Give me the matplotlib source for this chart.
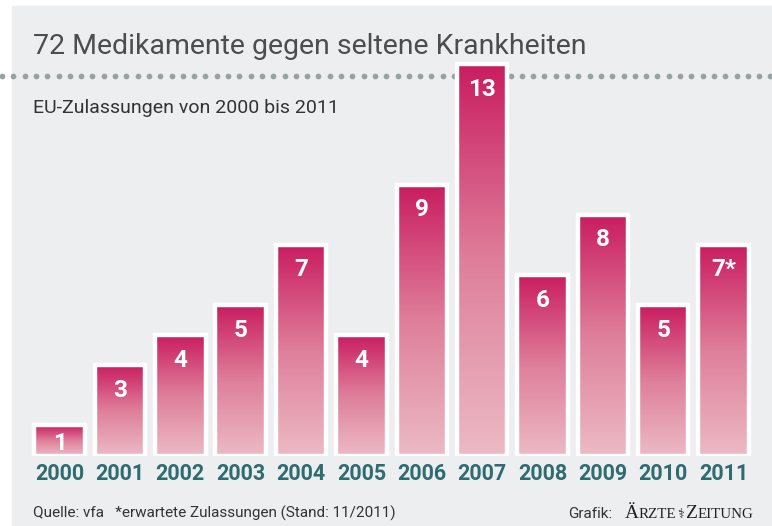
import numpy as np
import matplotlib.pyplot as plt
from matplotlib.colors import LinearSegmentedColormap
from matplotlib.patches import Rectangle

years = ["2000", "2001", "2002", "2003", "2004", "2005",
         "2006", "2007", "2008", "2009", "2010", "2011"]
counts = [1, 3, 4, 5, 7, 4, 9, 13, 6, 8, 5, 7]
value_labels = ["1", "3", "4", "5", "7", "4", "9", "13", "6", "8", "5", "7*"]

W, H = 772, 526
plt.rcParams['font.family'] = ['Roboto', 'DejaVu Sans']

fig = plt.figure(figsize=(W / 100, H / 100), dpi=100)
fig.patch.set_facecolor("white")

# background axes in pixel coordinates
bg = fig.add_axes([0, 0, 1, 1])
bg.set_xlim(0, W)
bg.set_ylim(H, 0)
bg.axis("off")
bg.add_patch(Rectangle((12, 6), W - 12, H - 6, color="#edeef0", zorder=0))
dots_x = np.arange(2, W, 11.3)
bg.scatter(dots_x, np.full_like(dots_x, 76), s=17, color="#98a2a3", lw=0, zorder=1)

bg.text(33, 54, "72 Medikamente gegen seltene Krankheiten", fontsize=20.5,
        color="#4d4d4d", va="baseline")
bg.text(33, 113, "EU-Zulassungen von 2000 bis 2011", fontsize=14,
        color="#333333", va="baseline")
bg.text(33, 518, "Quelle: vfa   *erwartete Zulassungen (Stand: 11/2011)",
        fontsize=11, color="#333333", va="baseline")
bg.text(568, 518, "Grafik:", fontsize=11, color="#333333", va="baseline")

# newspaper logo in small caps, pieces placed one after another
renderer = fig.canvas.get_renderer()
logo = [("Ä", 14, "Liberation Serif"), ("RZTE", 10.8, "Liberation Serif"),
        ("⚕", 9, "DejaVu Sans"), ("Z", 14, "Liberation Serif"),
        ("EITUNG", 10.8, "Liberation Serif")]
lx = 625
for s, fs, fam in logo:
    t = bg.text(lx, 518, s, fontsize=fs, family=fam, color="#222222", va="baseline")
    bb = t.get_window_extent(renderer)
    lx += bb.width + (1 if s == "RZTE" or s == "⚕" else 0)

# bar axes
px_unit = 30.08
base_px = 455.5
top_px = 40
ax_h = base_px - top_px
left_px, right_px = 25, 760
c0, step = 59.6, 60.36
ax = fig.add_axes([left_px / W, 1 - base_px / H, (right_px - left_px) / W, ax_h / H])
ax.set_zorder(2)
ax.patch.set_visible(False)
ax.axis("off")

cmap = LinearSegmentedColormap.from_list("g", ["#ecbac4", "#df7f9b", "#c91d60"])
grad = np.linspace(0, 1, 256).reshape(-1, 1)
x = np.arange(len(years))
bw = 50.5 / step
bars = ax.bar(x, counts, width=bw, facecolor="none", edgecolor="white",
              linewidth=3.2, zorder=3)
for b, v in zip(bars, counts):
    im = ax.imshow(grad, cmap=cmap, origin="lower", aspect="auto",
                   extent=[b.get_x(), b.get_x() + b.get_width(), 0, v], zorder=2)
    im.set_clip_path(b)
ax.set_xlim((left_px - c0) / step, (right_px - c0) / step)
ax.set_ylim(0, ax_h / px_unit)

for i, (v, lab) in enumerate(zip(counts, value_labels)):
    off = min(25 / px_unit, v / 2 + 3 / px_unit)
    ax.text(i, v - off, lab, ha="center", va="center", color="white",
            fontsize=17.5, fontweight="bold", zorder=4)
    ax.text(i, -18.5 / px_unit, years[i], ha="center", va="center",
            color="#2e6c72", fontsize=15.5, fontweight="bold", clip_on=False)

fig.savefig("out.png", dpi=100, facecolor=fig.get_facecolor())
